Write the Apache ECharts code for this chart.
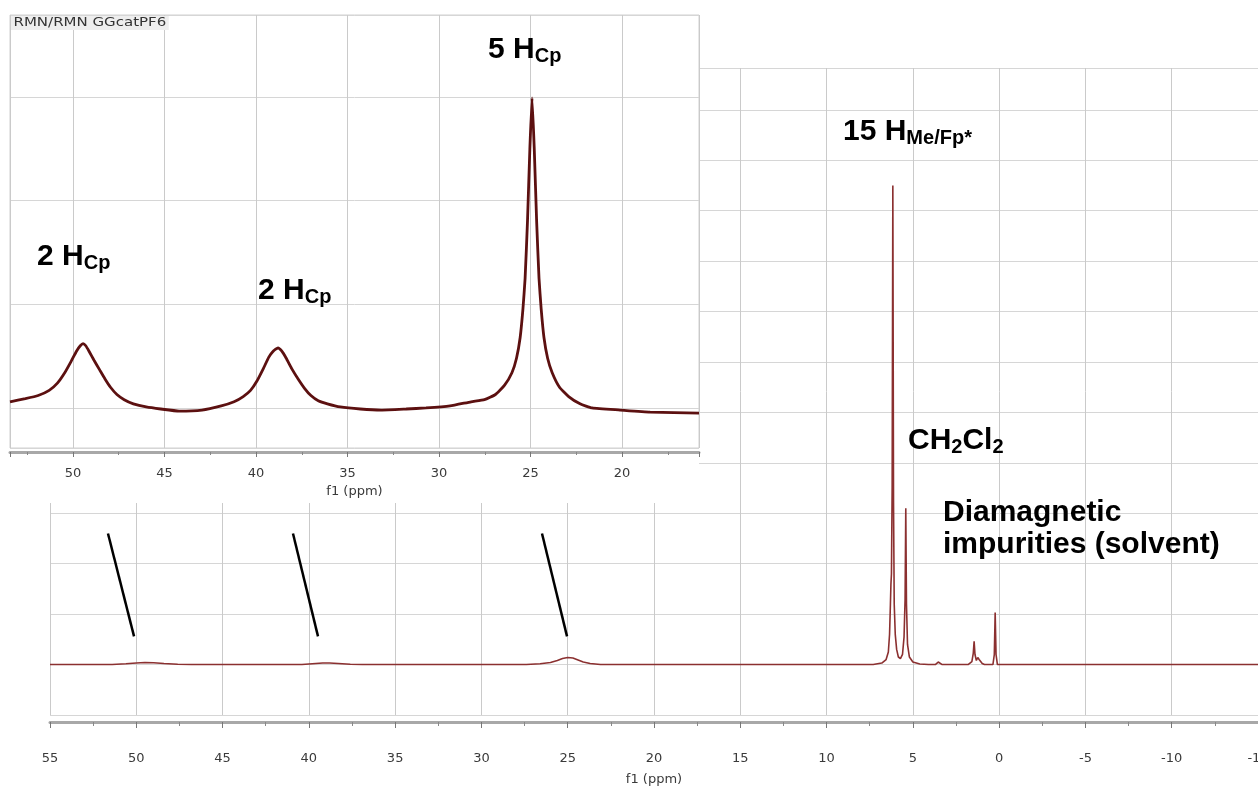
<!DOCTYPE html>
<html>
<head>
<meta charset="utf-8">
<title>RMN GGcatPF6</title>
<script src="https://cdn.jsdelivr.net/npm/echarts@6/dist/echarts.min.js"></script>
<style>
  html, body { margin: 0; padding: 0; background: #fff; }
  #main { width: 1258px; height: 787px; }
</style>
</head>
<body>
<div id="main"></div>
<script>
// full spectrum: chemical shift (ppm) and intensity (1 unit = one horizontal grid step)
var mainPpm = [55, 51.4, 50.6, 50.0, 49.5, 49.0, 48.4, 47.6, 46.8,
  40.4, 39.8, 39.2, 38.8, 38.3, 37.6, 36.9,
  27.4, 26.6, 26.0, 25.6, 25.3, 25.0, 24.7, 24.4, 24.1, 23.7, 23.1,
  7.3, 6.8, 6.55, 6.42, 6.35, 6.30, 6.27, 6.24, 6.20, 6.16, 6.12, 6.08, 6.02, 5.94, 5.84, 5.72, 5.6,
  5.51, 5.45, 5.41, 5.37, 5.31, 5.2, 5.0, 4.6, 4.1,
  3.7, 3.53, 3.42, 3.3,
  1.8, 1.58, 1.5, 1.45, 1.4, 1.32, 1.24, 1.16, 1.08, 0.98, 0.85,
  0.36, 0.28, 0.23, 0.18, 0.1, -15];
var mainInt = [0, 0, 0.015, 0.03, 0.04, 0.035, 0.02, 0.005, 0,
  0, 0.015, 0.03, 0.03, 0.02, 0.005, 0,
  0, 0.015, 0.04, 0.08, 0.12, 0.14, 0.13, 0.09, 0.05, 0.02, 0,
  0, 0.03, 0.1, 0.25, 0.6, 1.2, 1.6, 1.8, 3.5, 9.5, 3.2, 1.2, 0.6, 0.3, 0.15, 0.12, 0.2,
  0.55, 1.3, 3.1, 1.2, 0.4, 0.15, 0.05, 0.01, 0,
  0, 0.05, 0.03, 0,
  0, 0.06, 0.22, 0.46, 0.2, 0.08, 0.14, 0.1, 0.12, 0.02, 0,
  0, 0.2, 1.03, 0.2, 0, 0];

// zoomed inset (53.4 .. 15.8 ppm), 1 unit = one inset grid step
var insetPpm = [53.44, 52.6, 51.9, 51.3, 50.85, 50.45, 50.1, 49.8, 49.6, 49.45, 49.3, 49.1, 48.85, 48.55,
  48.25, 47.95, 47.6, 47.2, 46.7, 46.0, 45.2, 44.2, 42.95, 41.9, 41.2, 40.7, 40.3, 39.95, 39.6, 39.3,
  39.05, 38.8, 38.6, 38.35, 38.05, 37.7, 37.35, 37.0, 36.6, 36.1, 35.4, 34.3, 33.17, 31.8, 30.71, 29.4,
  28.25, 27.52, 26.92, 26.42, 26.02, 25.77, 25.57, 25.42, 25.30, 25.17, 25.04, 24.92,
  24.80, 24.67, 24.54, 24.42, 24.27, 24.07, 23.82, 23.42, 22.92, 22.3, 21.64, 20.11, 18.47, 15.8];
var insetInt = [0.06, 0.09, 0.12, 0.17, 0.24, 0.34, 0.45, 0.55, 0.6, 0.62, 0.6, 0.54, 0.46, 0.37,
  0.28, 0.2, 0.13, 0.08, 0.04, 0.01, -0.01, -0.03, -0.02, 0.02, 0.06, 0.11, 0.17, 0.26, 0.38, 0.49,
  0.55, 0.58, 0.55, 0.48, 0.38, 0.28, 0.19, 0.12, 0.07, 0.04, 0.01, -0.01, -0.02, -0.01, 0, 0.02,
  0.06, 0.08, 0.13, 0.22, 0.34, 0.48, 0.68, 0.95, 1.25, 1.8, 2.5, 2.99,
  2.5, 1.8, 1.25, 0.95, 0.68, 0.48, 0.34, 0.2, 0.11, 0.04, 0, -0.02, -0.04, -0.05];

// axis ranges
var mainRange = [-15, 55];
var mainYRange = [-1, 11.83];
var insetRange = [15.8, 53.44];
var insetYRange = [-0.386, 3.79];

// black pointer strokes from the inset down to the broad peaks (ppm, intensity)
var pointerFrom = [[51.64, 2.6], [40.92, 2.6], [26.49, 2.6]];
var pointerTo = [[50.13, 0.56], [39.47, 0.56], [25.04, 0.56]];

function zip(a, b) {
  return a.map(function (v, i) { return [v, b[i]]; });
}

var tickFont = { color: '#3a3a3a', fontFamily: 'DejaVu Sans', fontSize: 13 };
var RICH = {
  m: { fontFamily: 'Liberation Sans', fontWeight: 'bold', fontSize: 30, lineHeight: 32, fill: '#000' },
  s: { fontFamily: 'Liberation Sans', fontWeight: 'bold', fontSize: 20, lineHeight: 16, verticalAlign: 'bottom', fill: '#000' }
};

var myChart = echarts.init(document.getElementById('main'));
myChart.setOption({
  animation: false,
  backgroundColor: '#fff',
  grid: [
    { left: 50, right: 0, top: 68, bottom: 72, outerBoundsMode: 'none' },
    { left: 10, right: 559, top: 15, bottom: 339, outerBoundsMode: 'none', show: true, backgroundColor: 'transparent',
      borderColor: '#d0d0d0', borderWidth: 1, z: 4 }
  ],
  xAxis: [
    {
      gridIndex: 0, type: 'value', min: mainRange[0], max: mainRange[1], interval: 5, inverse: true, offset: 7,
      axisLine: { onZero: false, lineStyle: { color: '#a8a8a8', width: 3 } },
      axisTick: { length: 6, lineStyle: { color: '#777' } },
      minorTick: { show: true, splitNumber: 2, length: 4, lineStyle: { color: '#888' } },
      axisLabel: Object.assign({ margin: 30 }, tickFont),
      splitLine: { show: true, lineStyle: { color: '#cacaca' } },
      name: 'f1 (ppm)', nameLocation: 'middle', nameGap: 51, nameTextStyle: tickFont
    },
    {
      gridIndex: 1, type: 'value', min: insetRange[0], max: insetRange[1], splitNumber: 8, inverse: true, offset: 4, z: 5,
      axisLine: { onZero: false, lineStyle: { color: '#a8a8a8', width: 3 } },
      axisTick: { length: 5, lineStyle: { color: '#777' } },
      minorTick: { show: true, splitNumber: 2, length: 3, lineStyle: { color: '#888' } },
      axisLabel: Object.assign({ margin: 15, showMinLabel: false, showMaxLabel: false }, tickFont),
      splitLine: { show: true, lineStyle: { color: '#cacaca' } },
      name: 'f1 (ppm)', nameLocation: 'middle', nameGap: 30, nameTextStyle: tickFont
    }
  ],
  yAxis: [
    {
      gridIndex: 0, type: 'value', min: mainYRange[0], max: mainYRange[1], interval: 1,
      axisLine: { show: false }, axisTick: { show: false }, axisLabel: { show: false },
      splitLine: { show: true, lineStyle: { color: '#d6d6d6' } }
    },
    {
      gridIndex: 1, type: 'value', min: insetYRange[0], max: insetYRange[1], splitNumber: 4, z: 5,
      axisLine: { show: false }, axisTick: { show: false }, axisLabel: { show: false },
      splitLine: { show: true, lineStyle: { color: '#d6d6d6' } }
    }
  ],
  series: [
    {
      type: 'line', xAxisIndex: 0, yAxisIndex: 0, z: 2,
      data: zip(mainPpm, mainInt), showSymbol: false,
      lineStyle: { color: '#8b3030', width: 1.6 }
    },
    {
      type: 'lines', coordinateSystem: 'cartesian2d', xAxisIndex: 0, yAxisIndex: 0, z: 3,
      data: pointerFrom.map(function (p, i) { return { coords: [p, pointerTo[i]] }; }),
      lineStyle: { color: '#000', width: 2.5, opacity: 1 }
    },
    {
      type: 'line', xAxisIndex: 1, yAxisIndex: 1, z: 6,
      data: zip(insetPpm, insetInt), showSymbol: false, smooth: 0.15,
      lineStyle: { color: '#5c1010', width: 2.8 }
    }
  ],
  graphic: [
    { type: 'rect', z: 3, silent: true, shape: { x: 10, y: 15, width: 689, height: 488 }, style: { fill: '#fff' } },
    { type: 'text', z: 10, x: 11, y: 16, scaleX: 1.25,
      style: { text: 'RMN/RMN GGcatPF6', font: '12px "DejaVu Sans"', fill: '#333', backgroundColor: '#eeeeee', padding: [1, 2] } },
    { type: 'text', z: 10, x: 488, y: 34, style: { text: '{m|5 H}{s|Cp}', rich: RICH } },
    { type: 'text', z: 10, x: 37, y: 241, style: { text: '{m|2 H}{s|Cp}', rich: RICH } },
    { type: 'text', z: 10, x: 258, y: 275, style: { text: '{m|2 H}{s|Cp}', rich: RICH } },
    { type: 'text', z: 10, x: 843, y: 116, style: { text: '{m|15 H}{s|Me/Fp*}', rich: RICH } },
    { type: 'text', z: 10, x: 908, y: 425, style: { text: '{m|CH}{s|2}{m|Cl}{s|2}', rich: RICH } },
    { type: 'text', z: 10, x: 943, y: 497,
      style: { text: 'Diamagnetic\nimpurities (solvent)', font: 'bold 30px "Liberation Sans"', lineHeight: 32, fill: '#000' } }
  ]
});
</script>
</body>
</html>
